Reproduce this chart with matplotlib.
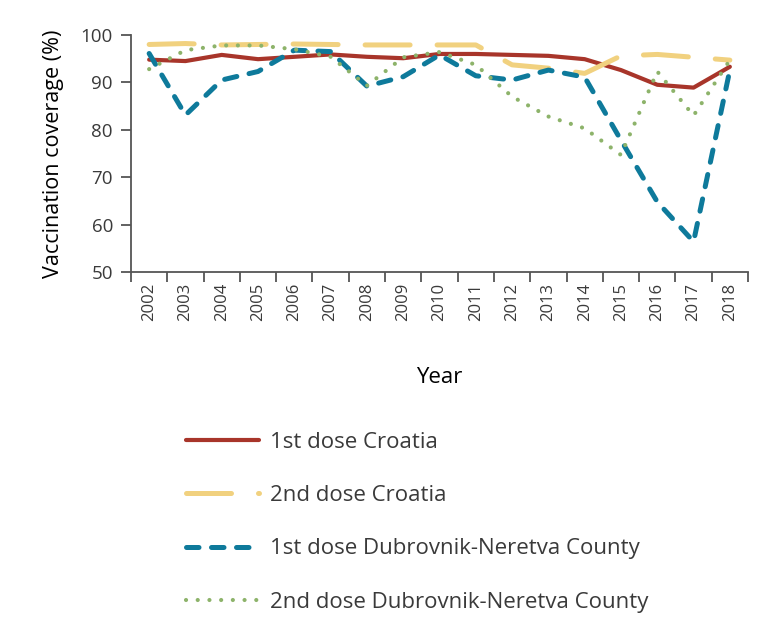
import numpy as np
import matplotlib
matplotlib.use('Agg')
import matplotlib.pyplot as plt

# --- Data ---
years = [str(y) for y in range(2002, 2019)]
first_croatia = [94.8, 94.5, 95.8, 94.9, 95.4, 95.9, 95.4, 95.1, 96.0, 96.0,
                 95.8, 95.6, 94.9, 92.6, 89.5, 88.9, 93.3]
second_croatia = [98.0, 98.2, 97.9, 98.0, 98.1, 98.0, 97.9, 97.9, 97.9, 97.9,
                  93.7, 93.0, 91.9, 95.6, 95.9, 95.3, 94.7]
first_dubrovnik = [96.1, 83.1, 90.5, 92.3, 96.8, 96.5, 89.2, 91.2, 95.8, 91.4,
                   90.5, 92.6, 91.1, 77.8, 64.8, 56.4, 92.6]
second_dubrovnik = [92.8, 96.8, 97.8, 97.8, 97.0, 95.4, 89.3, 95.3, 96.4, 93.7,
                    87.0, 82.8, 80.3, 74.7, 92.3, 83.0, 94.7]

labels = ['1st dose Croatia', '2nd dose Croatia',
          '1st dose Dubrovnik-Neretva County', '2nd dose Dubrovnik-Neretva County']

text_color = '#3a3a3a'
plt.rcParams['font.family'] = ['Open Sans', 'DejaVu Sans']
plt.rcParams['text.color'] = text_color

fig = plt.figure(figsize=(7.73, 6.30), dpi=100)
ax = fig.add_axes([131 / 773, 1 - 272 / 630, (748 - 131) / 773, (272 - 35) / 630])

x = np.arange(len(years))

ax.plot(x, first_croatia, color='#a8352a', linewidth=3.0,
        solid_capstyle='round', solid_joinstyle='round', label=labels[0])
ax.plot(x, second_croatia, color='#f1d17f', linewidth=3.6,
        dashes=(9.0, 5.4), dash_capstyle='round', dash_joinstyle='round',
        label=labels[1])
ax.plot(x, first_dubrovnik, color='#0e7a9b', linewidth=3.6,
        dashes=(2.5, 2.5), dash_capstyle='round', dash_joinstyle='round',
        label=labels[2])
ax.plot(x, second_dubrovnik, color='#8db36a', linewidth=3.0,
        dashes=(0.01, 2.8), dash_capstyle='round', label=labels[3])

# --- Axes styling ---
ax.set_xlim(-0.5, len(years) - 0.5)
ax.set_ylim(50, 100)
ax.set_yticks([50, 60, 70, 80, 90, 100])
ax.set_xticks(x)
ax.set_xticklabels(years, rotation=90)
ax.set_xticks(np.arange(-0.5, len(years), 1.0), minor=True)

for side in ['top', 'right']:
    ax.spines[side].set_visible(False)
for side in ['left', 'bottom']:
    ax.spines[side].set_color('#555555')
    ax.spines[side].set_linewidth(1.3)

ax.tick_params(axis='x', which='major', length=0, pad=8,
               labelsize=12, labelcolor=text_color)
ax.tick_params(axis='x', which='minor', length=7, width=1.3, color='#555555')
ax.tick_params(axis='y', which='major', length=7, width=1.3, color='#555555',
               labelsize=13.5, labelcolor=text_color, pad=6)

ax.set_ylabel('Vaccination coverage (%)', fontsize=15.5, labelpad=12)
ax.set_xlabel('Year', fontsize=16, labelpad=33)

# --- Legend ---
fig.legend(loc='upper left', bbox_to_anchor=(166 / 773, 1 - 412 / 630),
           frameon=False, fontsize=16, handlelength=3.3, handletextpad=0.5,
           labelspacing=1.45)

plt.savefig('out.png', dpi=100)
